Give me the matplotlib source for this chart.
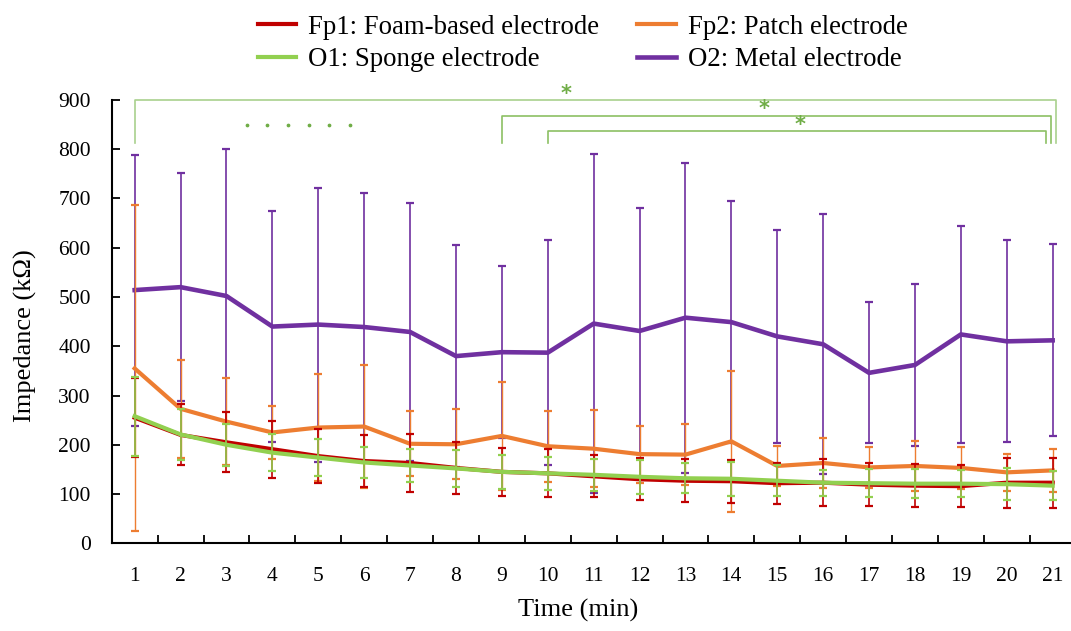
import matplotlib.pyplot as plt
from matplotlib.ticker import MultipleLocator, FixedLocator

plt.rcParams['font.family'] = ['Liberation Serif', 'DejaVu Serif']

time_min = list(range(1, 22))

fp1_mean = [255, 220, 205, 191, 177, 167, 163, 153, 145, 142, 136, 130, 127, 126, 122, 123, 119, 117, 116, 123, 123]
fp1_sd = [80, 62, 61, 58, 55, 53, 59, 52, 49, 49, 43, 43, 44, 44, 42, 48, 44, 43, 42, 51, 51]

fp2_mean = [355, 273, 247, 225, 235, 237, 202, 201, 218, 197, 192, 181, 180, 207, 157, 163, 154, 157, 153, 144, 148]
fp2_sd = [331, 99, 88, 54, 109, 125, 66, 71, 110, 72, 78, 58, 62, 143, 40, 51, 42, 51, 43, 38, 44]

o1_mean = [258, 221, 200, 184, 174, 164, 158, 152, 145, 142, 139, 135, 132, 131, 127, 123, 122, 121, 121, 120, 117]
o1_sd = [80, 52, 43, 38, 37, 32, 34, 37, 34, 34, 32, 34, 30, 34, 32, 26, 29, 30, 28, 32, 30]

o2_mean = [514, 520, 502, 440, 444, 439, 429, 380, 388, 387, 446, 431, 458, 449, 420, 404, 346, 362, 424, 410, 412]
o2_sd = [275, 232, 299, 234, 278, 273, 262, 226, 174, 228, 344, 249, 315, 246, 217, 264, 143, 165, 220, 205, 195]

labels = ["Fp1: Foam-based electrode", "Fp2: Patch electrode",
          "O1: Sponge electrode", "O2: Metal electrode"]
colors = ["#c00000", "#ed7d31", "#92d050", "#7030a0"]

# significance brackets: (x_start, x_end, y_top, star_x, star_y)
brackets = [(1, 21.08, 900, 10.4, 913), (9, 20.97, 867, 14.72, 881), (10, 20.85, 836, 15.5, 849)]
bracket_foot = 812
dots_x = [3.44, 3.89, 4.34, 4.79, 5.24, 5.69]
dots_y = 849

fig = plt.figure(figsize=(10.71, 6.31), dpi=100)
ax = fig.add_axes([0.1043, 0.139, 0.9, 0.7026])

series = [
    (o2_mean, o2_sd, colors[3], labels[3], 3.3, 1.2),
    (fp2_mean, fp2_sd, colors[1], labels[1], 3.0, 1.0),
    (fp1_mean, fp1_sd, colors[0], labels[0], 3.0, 1.2),
    (o1_mean, o1_sd, colors[2], labels[2], 3.0, 1.2),
]
handles = {}
for i, (m, s, c, lab, lw, elw) in enumerate(series):
    eb = ax.errorbar(time_min, m, yerr=s, color=c, lw=lw, elinewidth=elw,
                     capsize=2.8, capthick=1.6, label=lab, zorder=2 + i)
    handles[lab] = eb.lines[0]

# brackets and stars
for k, (x0, x1, ytop, sx, sy) in enumerate(brackets):
    bc = "#a9d18e" if k == 0 else "#8cc063"
    ax.plot([x0, x0, x1, x1], [bracket_foot, ytop, ytop, bracket_foot],
            color=bc, lw=1.2, clip_on=False, zorder=1)
    ax.text(sx, sy, "*", color="#70ad47", fontsize=15, ha="center", va="center",
            fontweight="bold", family="DejaVu Sans", clip_on=False)
ax.plot(dots_x, [dots_y] * len(dots_x), ls="none", marker="o", ms=1.7,
        color="#70ad47", clip_on=False)

ax.set_xlim(0.5, 21.5)
ax.set_ylim(0, 900)
ax.yaxis.set_major_locator(MultipleLocator(100))
ax.xaxis.set_major_locator(FixedLocator(time_min))
ax.xaxis.set_minor_locator(FixedLocator([t + 0.5 for t in time_min[:-1]]))
ax.tick_params(axis="x", which="major", length=0, pad=17, labelsize=15.5)
ax.tick_params(axis="x", which="minor", direction="in", length=6, width=1.3)
ax.tick_params(axis="y", direction="in", length=6, width=1.3, pad=15, labelsize=15.5)

for side in ["top", "right"]:
    ax.spines[side].set_visible(False)
for side in ["left", "bottom"]:
    ax.spines[side].set_linewidth(1.5)

ax.set_xlabel("Time (min)", fontsize=19, va="center")
ax.xaxis.set_label_coords(0.484, -0.1505)
ax.set_ylabel("Impedance (k\u03a9)", fontsize=19, va="center")
ax.yaxis.set_label_coords(-0.09, 0.469)

order = [labels[0], labels[2], labels[1], labels[3]]
fig.legend([handles[l] for l in order], order, loc="upper center", ncol=2,
           bbox_to_anchor=(0.544, 0.998), frameon=False, fontsize=19.3,
           handlelength=1.45, handletextpad=0.45, columnspacing=1.4,
           labelspacing=0.28, borderpad=0, handleheight=0.7)

fig.savefig("out.png", dpi=100)
